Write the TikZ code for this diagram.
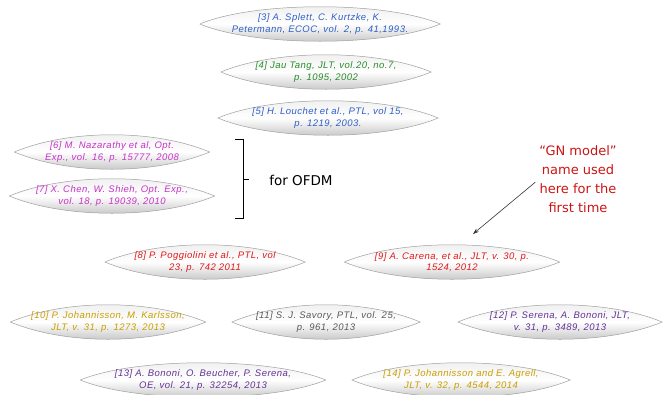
\documentclass[tikz,border=0pt]{standalone}
\usepackage{fontspec}
\setsansfont{Liberation Sans}[LetterSpace=5]
\newfontfamily\notefont{DejaVu Sans}
\usetikzlibrary{arrows.meta,backgrounds}

\definecolor{refblue}{RGB}{45,95,200}
\definecolor{refgreen}{RGB}{40,140,40}
\definecolor{refmagenta}{RGB}{200,50,200}
\definecolor{refred}{RGB}{225,25,25}
\definecolor{refgold}{RGB}{200,160,0}
\definecolor{refgray}{RGB}{90,90,90}
\definecolor{refpurple}{RGB}{100,50,150}
\definecolor{notered}{RGB}{205,20,20}

\begin{document}
\begin{tikzpicture}[x=1pt,y=-1pt,
  ref/.style={inner sep=0pt,minimum height=30pt,align=center,
    font=\sffamily\itshape\fontsize{9.5}{11.5}\selectfont,text=#1},
  lens/.style={draw=gray!75,line width=0.5pt,top color=gray!15,
    bottom color=gray!55,middle color=white}]

  \useasboundingbox (0,0) rectangle (666,394);

  \node [ref=refblue,minimum width=240pt] (r3) at (320,24)
    {[3] A. Splett, C. Kurtzke, K.\\Petermann, ECOC, vol. 2, p. 41,1993.};
  \node [ref=refgreen,minimum width=210pt] (r4) at (326,72)
    {[4] Jau Tang, JLT, vol.20, no.7,\\p. 1095, 2002};
  \node [ref=refblue,minimum width=220pt] (r5) at (328,118)
    {[5] H. Louchet et al., PTL, vol 15,\\p. 1219, 2003.};
  \node [ref=refmagenta,minimum width=195pt] (r6) at (112,152)
    {[6] M. Nazarathy et al, Opt.\\Exp., vol. 16, p. 15777, 2008};
  \node [ref=refmagenta,minimum width=205pt] (r7) at (112,196)
    {[7] X. Chen, W. Shieh, Opt. Exp.,\\vol. 18, p. 19039, 2010};
  \node [ref=refred,minimum width=200pt] (r8) at (205,262)
    {[8] P. Poggiolini et al., PTL, vol\\23, p. 742 2011};
  \node [ref=refred,minimum width=215pt] (r9) at (452,262)
    {[9] A. Carena, et al., JLT, v. 30, p.\\1524, 2012};
  \node [ref=refgold,minimum width=195pt] (r10) at (108,322)
    {[10] P. Johannisson, M. Karlsson,\\JLT, v. 31, p. 1273, 2013};
  \node [ref=refgray,minimum width=188pt] (r11) at (326,322)
    {[11] S. J. Savory, PTL, vol. 25,\\p. 961, 2013};
  \node [ref=refpurple,minimum width=204pt] (r12) at (560,322)
    {[12] P. Serena, A. Bononi, JLT,\\v. 31, p. 3489, 2013};
  \node [ref=refpurple,minimum width=245pt] (r13) at (203,380)
    {[13] A. Bononi, O. Beucher, P. Serena,\\OE, vol. 21, p. 32254, 2013};
  \node [ref=refgold,minimum width=218pt] (r14) at (461,380)
    {[14] P. Johannisson and E. Agrell,\\JLT, v. 32, p. 4544, 2014};

  \begin{pgfonlayer}{background}
    \foreach \n in {r3,r4,r5,r6,r7,r8,r9,r10,r11,r12,r13,r14}
      \draw [lens] (\n.west) .. controls +(55,-23) and +(-55,-23) .. (\n.east)
        .. controls +(-55,23) and +(55,23) .. (\n.west);
  \end{pgfonlayer}

  % bracket for the OFDM papers
  \draw [line width=0.7pt] (235,139) -- (243,139) -- (243,218) -- (235,218);
  \draw [line width=0.7pt] (243,179) -- (249,179);
  \node [font=\notefont\fontsize{13.5}{16}\selectfont] (ofdm) at (301,180) {for OFDM};

  \node [font=\notefont\fontsize{13}{19}\selectfont,text=notered,align=center,
    inner sep=0pt] (gn) at (578,179)
    {“GN model”\\name used\\here for the\\first time};
  \coordinate (gntip) at (473,234);
  \draw [gray!40!black,line width=0.6pt,-{Stealth[length=6pt,width=4pt]},
    shorten <=5pt] (gn.west) -- (gntip);

\end{tikzpicture}
\end{document}
